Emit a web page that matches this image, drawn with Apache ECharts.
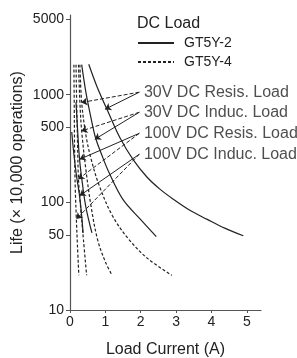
<!DOCTYPE html>
<html>
<head>
<meta charset="utf-8">
<script src="https://cdn.jsdelivr.net/npm/echarts@6/dist/echarts.min.js"></script>
<style>
  html, body { margin: 0; background: #fff; }
  #main { width: 297px; height: 358px; }
</style>
</head>
<body>
<div id="main"></div>
<script>
// axis ticks
var xTicks = [0, 1, 2, 3, 4, 5];
var yTicks = [10, 50, 100, 500, 1000, 5000];

// curves, [load current (A), life (x 10,000 operations)]
// GT5Y-2 (solid)
var s30Resis = [[0.53, 1920], [0.77, 1175], [1.07, 703], [1.42, 394], [1.78, 251], [2.18, 171], [2.55, 132], [2.92, 107], [3.4, 84], [3.88, 69.5], [4.39, 57.3], [4.9, 49]];
var s30Induc = [[0.33, 1900], [0.45, 1050], [0.58, 640], [0.72, 400], [0.9, 275], [1.1, 190], [1.49, 107], [2.0, 69], [2.44, 48]];
var s100Resis = [[0.17, 850], [0.21, 500], [0.27, 251], [0.35, 150], [0.45, 90], [0.62, 52]];
var s100Induc = [[0.05, 450], [0.1, 300], [0.18, 180], [0.27, 115], [0.33, 75], [0.37, 52]];
// GT5Y-4 (dashed)
var d30Resis = [[0.28, 1900], [0.33, 850], [0.45, 420], [0.6, 250], [0.83, 142], [1.2, 75], [1.67, 45], [2.2, 30], [2.88, 21]];
var d30Induc = [[0.24, 1900], [0.28, 850], [0.33, 460], [0.45, 200], [0.6, 90], [0.78, 45], [1.0, 28], [1.19, 21]];
var d100Resis = [[0.17, 1900], [0.19, 800], [0.21, 400], [0.24, 164], [0.3, 90], [0.38, 45], [0.47, 21]];
var d100Induc = [[0.11, 1900], [0.12, 800], [0.13, 300], [0.15, 130], [0.18, 70], [0.21, 40], [0.25, 21]];

// annotations: label text, label height (life), arrow tips
var annoText = ['30V DC Resis. Load', '30V DC Induc. Load', '100V DC Resis. Load', '100V DC Induc. Load'];
var annoLife = [1055, 687, 438, 280];
var annoX = 1.96;
var solidTips = [[0.99, 733], [0.7, 385], [0.27, 251], [0.27, 115]];
var dashTips = [[0.32, 846], [0.32, 460], [0.23, 164], [0.18, 70]];

var FONT = '"Liberation Sans", Arial, sans-serif';
var INK = '#222';

(function () {
  var myChart = echarts.init(document.getElementById('main'));

  function curve(name, data, dashed) {
    return {
      name: name,
      type: 'line',
      data: data,
      smooth: 0.35,
      symbol: 'none',
      silent: true,
      lineStyle: { color: INK, width: 1.2, type: dashed ? [3, 2] : 'solid' },
      itemStyle: { color: INK },
      z: 3
    };
  }

  function arrows(tips, dashed) {
    return {
      type: 'lines',
      coordinateSystem: 'cartesian2d',
      silent: true,
      symbol: ['none', 'arrow'],
      symbolSize: [4, 6],
      lineStyle: { color: INK, width: 1, type: dashed ? [4, 2] : 'solid', opacity: 1 },
      data: tips.map(function (t, i) {
        return { coords: [[annoX, annoLife[i]], t] };
      }),
      z: 4
    };
  }

  var option = {
    animation: false,
    textStyle: { fontFamily: FONT },
    grid: { left: 70, right: 36, top: 15, bottom: 48, outerBoundsMode: 'none', containLabel: false },
    legend: {
      data: ['GT5Y-2', 'GT5Y-4'],
      orient: 'vertical',
      left: 137,
      top: 36,
      itemWidth: 36,
      itemHeight: 14,
      itemGap: 5,
      padding: 0,
      selectedMode: false,
      itemStyle: { opacity: 0 },
      textStyle: { fontSize: 14, color: INK, fontFamily: FONT, padding: [0, 0, 0, 5] }
    },
    graphic: [{
      type: 'text',
      left: 137,
      top: 16,
      style: { text: 'DC Load', fontSize: 16, fill: INK, fontFamily: FONT }
    }],
    xAxis: {
      type: 'value',
      min: 0,
      max: 5.4,
      interval: 1,
      name: 'Load Current (A)',
      nameLocation: 'middle',
      nameGap: 32,
      nameTextStyle: { fontSize: 16, color: INK },
      axisLine: { show: true, lineStyle: { color: '#555', width: 1.2 } },
      axisTick: { show: true, length: 3, lineStyle: { color: '#555' } },
      axisLabel: { fontSize: 14, color: INK, margin: 5, showMaxLabel: false,
        formatter: function (v) { return xTicks.indexOf(v) >= 0 ? String(v) : ''; } },
      splitLine: { show: false }
    },
    yAxis: {
      type: 'log',
      logBase: 10,
      min: 10,
      max: 5500,
      name: 'Life (× 10,000 operations)',
      nameLocation: 'middle',
      nameGap: 44,
      nameMoveOverlap: false,
      nameTextStyle: { fontSize: 16, color: INK },
      axisLine: { show: true, lineStyle: { color: '#555', width: 1.2 } },
      axisTick: { show: true, length: 4, customValues: yTicks, lineStyle: { color: '#555' } },
      axisLabel: { fontSize: 14, color: INK, margin: 6, customValues: yTicks,
        formatter: function (v) { return String(v); } },
      minorTick: { show: false },
      splitLine: { show: false }
    },
    series: [
      curve('GT5Y-2', s30Resis, false),
      curve('GT5Y-2', s30Induc, false),
      curve('GT5Y-2', s100Resis, false),
      curve('GT5Y-2', s100Induc, false),
      curve('GT5Y-4', d30Resis, true),
      curve('GT5Y-4', d30Induc, true),
      curve('GT5Y-4', d100Resis, true),
      curve('GT5Y-4', d100Induc, true),
      arrows(solidTips, false),
      arrows(dashTips, true),
      {
        type: 'scatter',
        silent: true,
        symbolSize: 0,
        data: annoText.map(function (t, i) { return [annoX + 0.13, annoLife[i], t]; }),
        label: {
          show: true,
          position: 'right',
          distance: 0,
          fontSize: 16,
          color: INK,
          fontFamily: FONT,
          formatter: function (p) { return p.value[2]; }
        },
        z: 5
      }
    ]
  };
  myChart.setOption(option);
})();
</script>
</body>
</html>
